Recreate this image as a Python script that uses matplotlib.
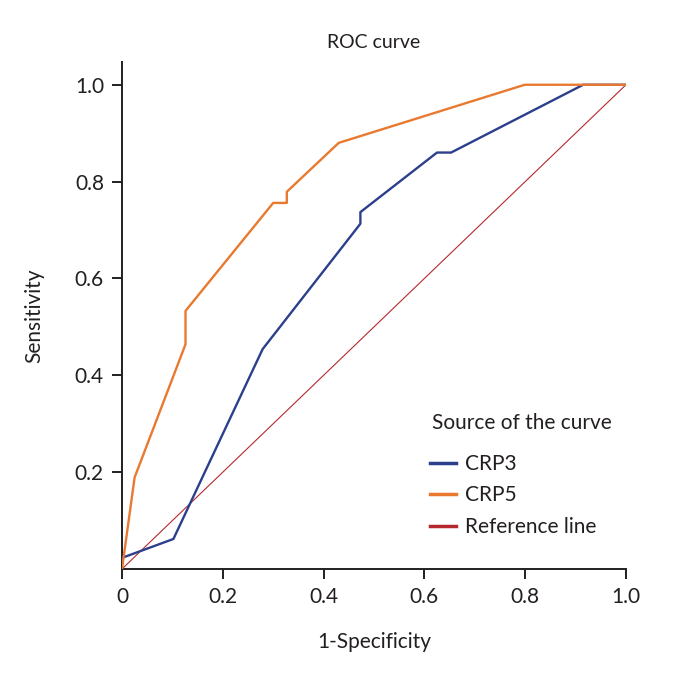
import matplotlib
matplotlib.use("Agg")
import matplotlib.pyplot as plt

plt.rcParams['font.family'] = ['Lato', 'DejaVu Sans']

# Data
crp3_fpr = [0.0, 0.0, 0.102, 0.279, 0.473, 0.473, 0.625, 0.653, 0.915, 1.0]
crp3_tpr = [0.0, 0.023, 0.062, 0.454, 0.713, 0.737, 0.860, 0.860, 1.0, 1.0]
crp5_fpr = [0.0, 0.025, 0.126, 0.126, 0.300, 0.327, 0.327, 0.430, 0.799, 1.0]
crp5_tpr = [0.0, 0.189, 0.464, 0.533, 0.756, 0.756, 0.779, 0.880, 1.0, 1.0]
ref_x = [0.0, 1.0]
ref_y = [0.0, 1.0]
x_ticks = [0, 0.2, 0.4, 0.6, 0.8, 1.0]
x_ticklabels = ["0", "0.2", "0.4", "0.6", "0.8", "1.0"]
y_ticks = [0.2, 0.4, 0.6, 0.8, 1.0]
y_ticklabels = ["0.2", "0.4", "0.6", "0.8", "1.0"]
series_names = ["CRP3", "CRP5", "Reference line"]

TXT = "#231f20"
W, H = 688, 674
fig = plt.figure(figsize=(W / 100, H / 100), dpi=100)
ax = fig.add_axes([122 / W, (H - 569) / H, 504 / W, (569 - 62) / H])

ax.plot(crp3_fpr, crp3_tpr, color="#2b3f8c", lw=1.7, label=series_names[0], zorder=3)
ax.plot(crp5_fpr, crp5_tpr, color="#e8792f", lw=1.7, label=series_names[1], zorder=3)
ax.plot(ref_x, ref_y, color="#b5292e", lw=0.8, label=series_names[2], zorder=2)

ax.set_xlim(0, 1.0)
ax.set_ylim(0, 1.047)
ax.set_xticks(x_ticks)
ax.set_xticklabels(x_ticklabels)
ax.set_yticks(y_ticks)
ax.set_yticklabels(y_ticklabels)
for s in ["top", "right"]:
    ax.spines[s].set_visible(False)
for s in ["left", "bottom"]:
    ax.spines[s].set_linewidth(1.4)
    ax.spines[s].set_color(TXT)
ax.tick_params(axis="both", direction="out", length=7, width=1.4, colors=TXT,
               labelsize=15, labelcolor=TXT, pad=6)

ax.set_title("ROC curve", fontsize=14, color=TXT, pad=10)
ax.set_xlabel("1-Specificity", fontsize=15, color=TXT, labelpad=18)
ax.set_ylabel("Sensitivity", fontsize=15, color=TXT, labelpad=22)

fig.text(432 / W, 1 - 423 / H, "Source of the curve", fontsize=15, color=TXT,
         ha="left", va="center")
leg = ax.legend(loc="upper left",
                bbox_to_anchor=(430 / W, 1 - 454 / H), bbox_transform=fig.transFigure,
                frameon=False, fontsize=15, borderpad=0, borderaxespad=0,
                handlelength=1.25, handletextpad=0.45, labelspacing=0.55)
for line in leg.get_lines():
    line.set_linewidth(2.5)
for t in leg.get_texts():
    t.set_color(TXT)

fig.savefig("out.png", dpi=100)
